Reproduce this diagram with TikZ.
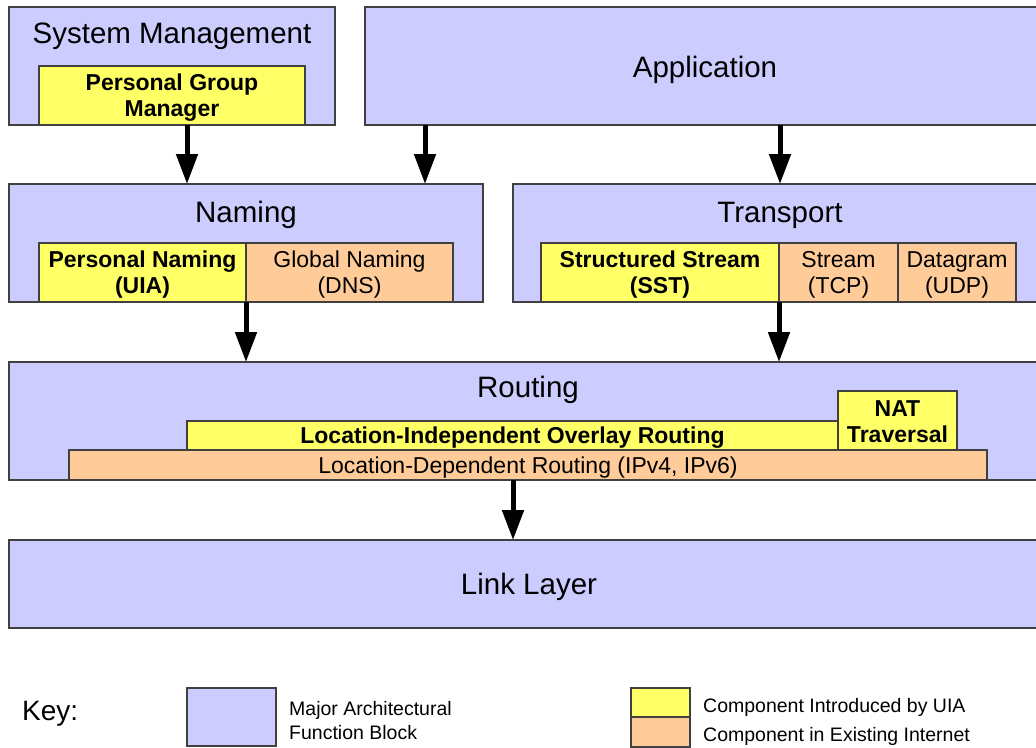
\documentclass[tikz,border=0pt]{standalone}
\usepackage{fontspec}
\setmainfont{Liberation Sans}
\usetikzlibrary{arrows.meta}
\definecolor{blkfill}{HTML}{CCCCFF}
\definecolor{uiafill}{HTML}{FFFF66}
\definecolor{inetfill}{HTML}{FFCC99}
\definecolor{edgecol}{HTML}{404040}
\begin{document}
\begin{tikzpicture}[x=1pt,y=-1pt,
 box/.style={draw=edgecol, line width=1.2pt, anchor=north west, inner sep=0pt, outer sep=0pt},
 major/.style={box, fill=blkfill},
 newc/.style={box, fill=uiafill},
 oldc/.style={box, fill=inetfill},
 newtxt/.style={inner sep=0pt, align=center, yshift=-2.5pt, font=\fontsize{23}{26}\selectfont\bfseries},
 oldtxt/.style={inner sep=0pt, align=center, yshift=-2.5pt, font=\fontsize{23}{26}\selectfont},
 ttl/.style={anchor=base, inner sep=0pt, font=\fontsize{29.5}{34}\selectfont},
 keytxt/.style={inner sep=0pt, align=left, font=\fontsize{19.5}{24}\selectfont},
 arr/.style={line width=5pt, -{Triangle[width=21pt,length=30pt]}},
]
\useasboundingbox (0,0) rectangle (1036,747);

% major blocks
\node[major, minimum width=326pt, minimum height=118pt] (sysm) at (9,7) {};
\node[major, minimum width=681pt, minimum height=118pt] (app) at (365,7) {};
\node[major, minimum width=474pt, minimum height=118pt] (naming) at (9,184) {};
\node[major, minimum width=533pt, minimum height=118pt] (transport) at (513,184) {};
\node[major, minimum width=1037pt, minimum height=118pt] (routing) at (9,362) {};
\node[major, minimum width=1037pt, minimum height=88pt] (link) at (9,540) {};

% titles
\node[ttl] (sysmt) at (172,43) {System Management};
\node[ttl] (appt) at (705,77) {Application};
\node[ttl] (namingt) at (246,222) {Naming};
\node[ttl] (transportt) at (780,222) {Transport};
\node[ttl] (routingt) at (528,397) {Routing};
\node[ttl] (linkt) at (529,594) {Link Layer};

% components
\node[newc, minimum width=266pt, minimum height=59pt,
  label={[name=pgmt, newtxt]center:{Personal Group\\Manager}}] (pgm) at (39,66) {};
\node[newc, minimum width=207pt, minimum height=59pt,
  label={[name=pnt, newtxt]center:{Personal Naming\\(UIA)}}] (pn) at (39,243) {};
\node[oldc, minimum width=207pt, minimum height=59pt,
  label={[name=gnt, oldtxt]center:{Global Naming\\(DNS)}}] (gn) at (246,243) {};
\node[newc, minimum width=238pt, minimum height=59pt,
  label={[name=sstt, newtxt]center:{Structured Stream\\(SST)}}] (sst) at (541,243) {};
\node[oldc, minimum width=119pt, minimum height=59pt,
  label={[name=tcpt, oldtxt]center:{Stream\\(TCP)}}] (tcp) at (779,243) {};
\node[oldc, minimum width=118pt, minimum height=59pt,
  label={[name=udpt, oldtxt]center:{Datagram\\(UDP)}}] (udp) at (898,243) {};
\node[newc, minimum width=651pt, minimum height=29pt,
  label={[name=liort, newtxt]center:{Location-Independent Overlay Routing}}] (lior) at (187,421) {};
\node[newc, minimum width=119pt, minimum height=59pt,
  label={[name=natt, newtxt, yshift=1pt]center:{NAT\\Traversal}}] (nat) at (838,391) {};
\node[oldc, minimum width=918pt, minimum height=30pt,
  label={[name=ldrt, oldtxt]center:{Location-Dependent Routing (IPv4, IPv6)}}] (ldr) at (69,450) {};

% arrows
\coordinate (c187) at (187,0);
\coordinate (c425) at (425,0);
\coordinate (c780) at (780,0);
\coordinate (c513) at (513,0);
\draw[arr] (c187 |- sysm.south) -- (c187 |- naming.north);
\draw[arr] (c425 |- app.south) -- (c425 |- naming.north);
\draw[arr] (c780 |- app.south) -- (c780 |- transport.north);
\draw[arr] (pn.south east) -- (pn.south east |- routing.north);
\draw[arr] (sst.south east) -- (sst.south east |- routing.north);
\draw[arr] (c513 |- routing.south) -- (c513 |- link.north);

% key
\node[anchor=base west, inner sep=0pt, font=\fontsize{28}{32}\selectfont] (key) at (22,720) {Key:};
\node[major, minimum width=89pt, minimum height=58pt] (kmaj) at (187,688) {};
\node[keytxt, anchor=west] (kmajt) at (289,721) {Major Architectural\\Function Block};
\node[newc, minimum width=59pt, minimum height=29pt] (knew) at (631,688) {};
\node[oldc, minimum width=59pt, minimum height=30pt] (kold) at (631,717) {};
\node[keytxt, anchor=base west] (knewt) at (703,712) {Component Introduced by UIA};
\node[keytxt, anchor=base west] (koldt) at (703,741) {Component in Existing Internet};
\end{tikzpicture}
\end{document}
